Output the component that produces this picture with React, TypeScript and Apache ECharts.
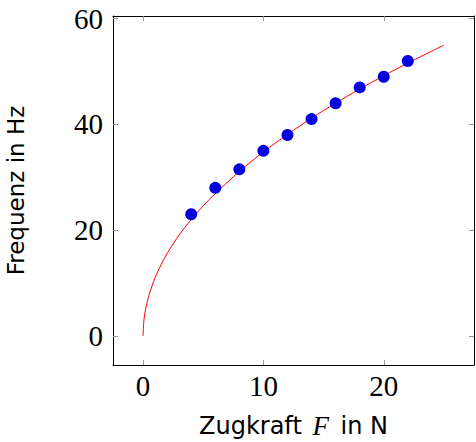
import React, { useEffect, useRef } from "react";
import * as echarts from "echarts";

const forceN = [4, 6, 8, 10, 12, 14, 16, 18, 20, 22];
const freqHz = [23, 28, 31.5, 35, 38, 41, 44, 47, 49, 52];

const fitX = [0, 0.05, 0.15, 0.3, 0.5, 0.75, 1, 1.5, 2, 3, 4, 5, 6, 8, 10, 12, 14, 16, 18, 20, 22, 25];
const fitY = [0, 2.5, 4.3, 6.0, 7.8, 9.5, 11, 13.5, 15.6, 19.1, 22, 24.6, 26.9, 31.1, 34.8, 38.1, 41.2, 44, 46.7, 49.2, 51.6, 55];

const xTicks = [0, 10, 20];
const yTicks = [0, 20, 40, 60];

export default function App() {
  const ref = useRef<HTMLDivElement>(null);
  useEffect(() => {
    const chart = echarts.init(ref.current!, null, { renderer: "svg" });
    const serif = "Liberation Serif";
    const tickStyle = { show: true, inside: true, length: 5, lineStyle: { color: "#999", width: 1 } };
    chart.setOption({
      animation: false,
      grid: { left: 113, right: 2, top: 16, bottom: 77, containLabel: false, outerBoundsMode: "none" },
      xAxis: [
        {
          type: "value",
          min: -2.5,
          max: 27.5,
          axisLine: { show: true, onZero: false, lineStyle: { color: "#000", width: 1 } },
          axisTick: { ...tickStyle, customValues: xTicks },
          axisLabel: { customValues: xTicks, color: "#000", fontFamily: serif, fontSize: 29, margin: 6 },
          splitLine: { show: false },
          name: "{a|Zugkraft }{b|F}{a| in N}",
          nameLocation: "middle",
          nameGap: 48,
          nameTextStyle: {
            rich: {
              a: { fontFamily: "DejaVu Sans", fontSize: 24, color: "#000", lineHeight: 26 },
              b: { fontFamily: serif, fontStyle: "italic", fontSize: 27, color: "#000", padding: [0, 4, 0, 3], lineHeight: 26 },
            },
          },
        },
        {
          type: "value",
          position: "top",
          min: -2.5,
          max: 27.5,
          axisLine: { show: true, onZero: false, lineStyle: { color: "#000", width: 1 } },
          axisTick: { ...tickStyle, customValues: xTicks },
          axisLabel: { show: false },
          splitLine: { show: false },
        },
      ],
      yAxis: [
        {
          type: "value",
          min: -5.5,
          max: 60.5,
          axisLine: { show: true, onZero: false, lineStyle: { color: "#000", width: 1 } },
          axisTick: { ...tickStyle, customValues: yTicks },
          axisLabel: { customValues: yTicks, color: "#000", fontFamily: serif, fontSize: 29, margin: 10 },
          splitLine: { show: false },
          name: "Frequenz in Hz",
          nameLocation: "middle",
          nameGap: 86,
          nameRotate: 90,
          nameTextStyle: { fontFamily: "DejaVu Sans", fontSize: 23, color: "#000" },
        },
        {
          type: "value",
          position: "right",
          min: -5.5,
          max: 60.5,
          axisLine: { show: true, onZero: false, lineStyle: { color: "#000", width: 1 } },
          axisTick: { ...tickStyle, customValues: yTicks },
          axisLabel: { show: false },
          splitLine: { show: false },
        },
      ],
      series: [
        {
          type: "line",
          data: fitX.map((x, i) => [x, fitY[i]]),
          smooth: 0.3,
          showSymbol: false,
          lineStyle: { color: "#ff0000", width: 1 },
          z: 1,
        },
        {
          type: "scatter",
          data: forceN.map((x, i) => [x, freqHz[i]]),
          symbol: "circle",
          symbolSize: 12,
          itemStyle: { color: "#0000dd", opacity: 1 },
          z: 2,
        },
      ],
    });
    return () => chart.dispose();
  }, []);
  return <div ref={ref} style={{ width: 476, height: 442, position: "absolute", left: 0, top: 0 }} />;
}
